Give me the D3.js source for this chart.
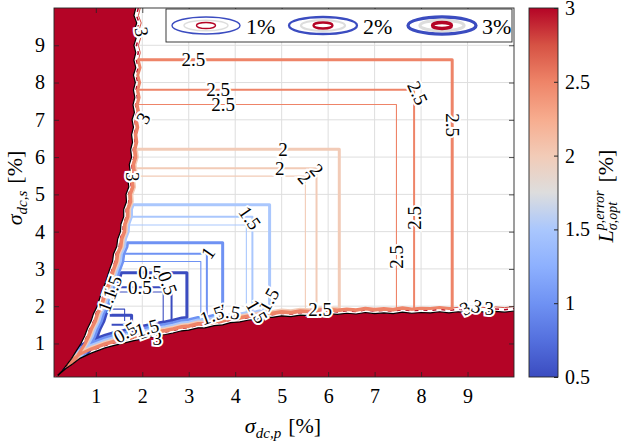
<!DOCTYPE html>
<html>
<head>
<meta charset="utf-8">
<script src="https://cdn.jsdelivr.net/npm/d3@7"></script>
<style>
  body { margin: 0; background: #fff; }
  svg { display: block; }
  text { font-family: 'Liberation Serif', 'DejaVu Serif', serif; fill: #000; }
</style>
</head>
<body>
<svg></svg>
<script>
'use strict';

const svgWidth = 625;
const svgHeight = 444;
const plot = { left: 54, right: 514, top: 8, bottom: 377 };

// ---- data ----
const xTicks = [1, 2, 3, 4, 5, 6, 7, 8, 9];
const yTicks = [1, 2, 3, 4, 5, 6, 7, 8, 9];
const colorTicks = [0.5, 1, 1.5, 2, 2.5, 3];

const datasets = ['1%', '2%', '3%'];
const levels = [0.5, 1, 1.5, 2, 2.5];
// corner of each L-shaped contour, one row per dataset
const cornerX = [
  [2.45, 3.26, 4.24, 5.51, 7.47],
  [2.63, 3.39, 4.37, 5.75, 7.85],
  [2.96, 3.73, 4.74, 6.24, 8.67]
];
const cornerY = [
  [2.38, 3.20, 4.18, 5.49, 7.41],
  [2.51, 3.41, 4.40, 5.70, 7.81],
  [2.90, 3.70, 4.72, 6.21, 8.61]
];

// edge of the saturated (>= 3) region, top-left part (top -> tip)
const leftEdge = [
  [1.86, 10], [1.82, 9.8], [1.88, 9.6], [1.83, 9.4], [1.87, 9.2], [1.82, 9.0],
  [1.86, 8.8], [1.82, 8.6], [1.86, 8.4], [1.81, 8.2], [1.85, 8.0], [1.81, 7.8],
  [1.84, 7.6], [1.8, 7.4], [1.83, 7.2], [1.78, 7.0], [1.81, 6.8], [1.77, 6.6],
  [1.79, 6.4], [1.75, 6.2], [1.77, 6.0], [1.72, 5.8], [1.74, 5.6], [1.69, 5.4],
  [1.71, 5.2], [1.65, 5.0], [1.66, 4.8], [1.6, 4.6], [1.6, 4.4], [1.54, 4.2],
  [1.53, 4.0], [1.47, 3.8], [1.45, 3.6], [1.38, 3.4], [1.36, 3.2], [1.3, 3.0],
  [1.25, 2.8], [1.2, 2.6], [1.13, 2.4], [1.08, 2.2], [1.03, 2.0], [0.95, 1.8],
  [0.9, 1.6], [0.82, 1.4], [0.76, 1.2], [0.68, 1.0], [0.58, 0.8], [0.48, 0.6],
  [0.37, 0.42], [0.27, 0.26], [0.18, 0.14]
];
// edge of the saturated region, bottom-right part (tip -> right)
const bottomEdge = [
  [0.18, 0.14], [0.35, 0.32], [0.5, 0.45], [0.66, 0.6], [0.9, 0.74], [1.2, 0.88],
  [1.4, 0.95], [1.58, 1.0], [1.8, 1.07], [2.0, 1.12], [2.3, 1.2], [2.5, 1.24],
  [2.66, 1.28], [2.85, 1.34], [3.0, 1.36], [3.2, 1.42], [3.35, 1.42], [3.55, 1.48],
  [3.73, 1.5], [3.9, 1.56], [4.1, 1.58], [4.3, 1.63], [4.45, 1.64], [4.65, 1.7],
  [4.8, 1.7], [5.0, 1.74], [5.2, 1.72], [5.4, 1.76], [5.6, 1.75], [5.8, 1.79],
  [6.0, 1.8], [6.2, 1.78], [6.4, 1.81], [6.6, 1.79], [6.8, 1.83], [7.0, 1.8],
  [7.2, 1.82], [7.4, 1.8], [7.6, 1.84], [7.8, 1.81], [8.0, 1.83], [8.2, 1.82],
  [8.4, 1.85], [8.6, 1.82], [8.8, 1.85], [9.0, 1.83], [9.2, 1.86], [9.4, 1.84],
  [9.6, 1.86], [9.8, 1.84], [10, 1.87]
];
// small closed contours of level 0.5 inside the wedge
const innerContours = [
  { set: 2, pts: [[1.3, 1.76], [1.77, 1.76], [1.77, 1.15]] },
  { set: 1, pts: [[1.34, 1.5], [1.7, 1.5], [1.7, 1.14]] },
  { set: 0, pts: [[1.25, 1.92], [1.62, 1.92], [1.62, 1.6]] }
];

// contour labels: [text, x, y, rotation]
const contourLabels = [
  ['2.5', 3.1, 8.61, 0], ['2.5', 3.63, 7.81, 0], ['2.5', 3.74, 7.41, 0],
  ['2.5', 7.93, 7.72, 65], ['2.5', 8.67, 6.86, 90], ['2.5', 7.85, 4.37, -90],
  ['2.5', 7.47, 3.32, -90], ['2.5', 5.83, 1.92, 0],
  ['3', 8.95, 1.95, -30], ['3', 9.2, 2.0, 20], ['3', 9.47, 1.93, 0],
  ['2', 5.03, 6.21, 0], ['2', 4.96, 5.7, 0], ['2', 5.5, 5.45, 50], ['2', 5.76, 5.66, 50],
  ['1.5', 4.32, 4.37, 55], ['1', 3.41, 3.43, -55], ['1.5', 4.71, 2.17, -60],
  ['1.5', 4.47, 1.86, 60], ['1.5', 3.85, 1.86, 10], ['1.5', 3.5, 1.76, -20],
  ['0.5', 2.17, 2.92, 0], ['0.5', 1.95, 2.51, 0], ['0.5', 2.55, 2.62, 70],
  ['3', 1.99, 9.36, 80], ['3', 2.02, 7.05, -60], ['3', 1.79, 5.47, 90],
  ['3', 2.32, 1.15, 0], ['1', 1.99, 1.31, -20], ['1.5', 1.24, 2.17, -70],
  ['1.5', 1.35, 2.5, -70], ['0.5', 1.63, 1.3, -30], ['1.5', 2.1, 1.42, -15]
];

// coolwarm colour map stops, 0.5 -> 3
const coolwarm = ['#3b4cc0', '#5470de', '#6f92f3', '#8db0fe', '#aac7fd', '#dddddd',
  '#f2cbb7', '#f7ac8e', '#ee8468', '#d65244', '#b40426'];

// ---- styles ----
const lineWidths = [1.1, 2, 3];
const gapPx = [12, 9.5, 7, 5, 3.5];
const gapShift = [-0.8, 0, 0.8];
const serif = "'Liberation Serif', serif";

const svg = d3.select('svg')
  .attr('width', svgWidth)
  .attr('height', svgHeight);

const x = d3.scaleLinear().domain([0.1, 10]).range([plot.left, plot.right]);
const y = d3.scaleLinear().domain([0.1, 10]).range([plot.bottom, plot.top]);
const color = d3.scaleLinear()
  .domain(coolwarm.map((c, i) => 0.5 + 2.5 * i / (coolwarm.length - 1)))
  .range(coolwarm);

const line = d3.line();

function xOnLeft(v) {
  for (let i = 0; i < leftEdge.length - 1; i++) {
    const a = leftEdge[i], b = leftEdge[i + 1];
    if (v <= a[1] && v >= b[1]) return a[0] + (b[0] - a[0]) * (a[1] - v) / (a[1] - b[1]);
  }
  return leftEdge[leftEdge.length - 1][0];
}
function yOnBottom(v) {
  for (let i = 0; i < bottomEdge.length - 1; i++) {
    const a = bottomEdge[i], b = bottomEdge[i + 1];
    if (v >= a[0] && v <= b[0]) return a[1] + (b[1] - a[1]) * (v - a[0]) / (b[0] - a[0]);
  }
  return bottomEdge[bottomEdge.length - 1][1];
}

// closed contour: L-shape in the open area, then back along the saturated edges
function contourLoop(cx, cy, gap) {
  const pts = [[x(cx), y(cy)], [x(cx), y(yOnBottom(cx)) - gap]];
  bottomEdge.filter(p => p[0] < cx).reverse()
    .forEach(p => pts.push([x(p[0]), y(p[1]) - gap]));
  leftEdge.filter(p => p[1] < cy).reverse()
    .forEach(p => pts.push([x(p[0]) + gap, y(p[1])]));
  pts.push([x(xOnLeft(cy)) + gap, y(cy)]);
  return pts;
}

const defs = svg.append('defs');
defs.append('clipPath').attr('id', 'wedge')
  .append('path')
  .attr('d', line([...leftEdge, ...bottomEdge.slice(1), [10, 10]].map(p => [x(p[0]), y(p[1])])) + 'Z');

const grad = defs.append('linearGradient').attr('id', 'cbar')
  .attr('x1', 0).attr('y1', 1).attr('x2', 0).attr('y2', 0);
coolwarm.forEach((c, i) => grad.append('stop')
  .attr('offset', i / (coolwarm.length - 1)).attr('stop-color', c));

// background and grid
svg.append('rect')
  .attr('x', plot.left).attr('y', plot.top)
  .attr('width', plot.right - plot.left).attr('height', plot.bottom - plot.top)
  .attr('fill', '#fff');

svg.append('g').selectAll('line').data(xTicks).join('line')
  .attr('x1', d => x(d)).attr('x2', d => x(d))
  .attr('y1', plot.top).attr('y2', plot.bottom)
  .attr('stroke', '#dedede').attr('stroke-width', 1);
svg.append('g').selectAll('line').data(yTicks).join('line')
  .attr('y1', d => y(d)).attr('y2', d => y(d))
  .attr('x1', plot.left).attr('x2', plot.right)
  .attr('stroke', '#dedede').attr('stroke-width', 1);

// saturated regions
const red = color(3);
svg.append('path')
  .attr('d', line([[0.1, 10], ...leftEdge, [0.1, 0.1]].map(p => [x(p[0]), y(p[1])])) + 'Z')
  .attr('fill', red);
svg.append('path')
  .attr('d', line([...bottomEdge, [10, 0.1], [0.1, 0.1]].map(p => [x(p[0]), y(p[1])])) + 'Z')
  .attr('fill', red);

// contours
const cg = svg.append('g').attr('clip-path', 'url(#wedge)')
  .attr('fill', 'none').attr('stroke-linejoin', 'round');

// level-3 fringe along the edges
cg.append('path')
  .attr('d', line(leftEdge.map(p => [x(p[0]) + 2.5, y(p[1])])))
  .attr('stroke', red).attr('stroke-width', 1.5).attr('stroke-dasharray', '4 5');
cg.append('path')
  .attr('d', line(bottomEdge.map(p => [x(p[0]), y(p[1]) - 2.5])))
  .attr('stroke', red).attr('stroke-width', 1.5).attr('stroke-dasharray', '4 5');
cg.append('path')
  .attr('d', line(leftEdge.map(p => [x(p[0]) + 4.5, y(p[1])])))
  .attr('stroke', color(2.75)).attr('stroke-width', 1);
cg.append('path')
  .attr('d', line(bottomEdge.map(p => [x(p[0]), y(p[1]) - 4.5])))
  .attr('stroke', color(2.75)).attr('stroke-width', 1);

datasets.forEach((ds, d) => {
  levels.forEach((lv, i) => {
    cg.append('path')
      .attr('d', line(contourLoop(cornerX[d][i], cornerY[d][i], gapPx[i] + gapShift[d])) + 'Z')
      .attr('stroke', color(lv))
      .attr('stroke-width', lineWidths[d]);
  });
});

innerContours.forEach(c => {
  cg.append('path')
    .attr('d', line(c.pts.map(p => [x(p[0]), y(p[1])])))
    .attr('stroke', color(0.5))
    .attr('stroke-width', lineWidths[c.set]);
});

// black edge of the saturated region
svg.append('path')
  .attr('d', line(leftEdge.map(p => [x(p[0]), y(p[1])])))
  .attr('fill', 'none').attr('stroke', '#000').attr('stroke-width', 1.2);
svg.append('path')
  .attr('d', line(bottomEdge.map(p => [x(p[0]), y(p[1])])))
  .attr('fill', 'none').attr('stroke', '#000').attr('stroke-width', 1.2);

// contour labels
svg.append('g').selectAll('text').data(contourLabels).join('text')
  .attr('transform', d => `translate(${x(d[1])},${y(d[2])}) rotate(${d[3]})`)
  .attr('text-anchor', 'middle')
  .attr('dy', '0.35em')
  .attr('font-size', 19)
  .attr('stroke', '#fff').attr('stroke-width', 4)
  .attr('paint-order', 'stroke')
  .text(d => d[0]);

// axes
svg.append('g')
  .attr('transform', `translate(0,${plot.bottom})`)
  .call(d3.axisBottom(x).tickValues(xTicks).tickSize(-5).tickPadding(12).tickFormat(d3.format('d')));
svg.append('g')
  .attr('transform', `translate(${plot.left},0)`)
  .call(d3.axisLeft(y).tickValues(yTicks).tickSize(-5).tickPadding(9).tickFormat(d3.format('d')));
svg.append('g')
  .attr('transform', `translate(0,${plot.top})`)
  .call(d3.axisTop(x).tickValues(xTicks).tickSize(-5).tickFormat(''));
svg.append('g')
  .attr('transform', `translate(${plot.right},0)`)
  .call(d3.axisRight(y).tickValues(yTicks).tickSize(-5).tickFormat(''));
svg.selectAll('.domain').remove();
svg.selectAll('.tick line').attr('stroke', '#262626').attr('stroke-width', 0.8);
svg.selectAll('.tick text')
  .attr('font-family', serif)
  .attr('font-size', 20).attr('fill', '#000');

svg.append('rect')
  .attr('x', plot.left).attr('y', plot.top)
  .attr('width', plot.right - plot.left).attr('height', plot.bottom - plot.top)
  .attr('fill', 'none').attr('stroke', '#262626').attr('stroke-width', 0.9);

// axis titles
const xt = svg.append('text')
  .attr('x', 283).attr('y', 433).attr('text-anchor', 'middle').attr('font-size', 22);
xt.append('tspan').attr('font-style', 'italic').text('σ');
xt.append('tspan').attr('font-style', 'italic').attr('font-size', 15).attr('dy', 5).text('dc,p');
xt.append('tspan').attr('dy', -5).attr('dx', 7).text('[%]');

const yt = svg.append('text')
  .attr('transform', 'translate(22,188) rotate(-90)')
  .attr('text-anchor', 'middle').attr('font-size', 22);
yt.append('tspan').attr('font-style', 'italic').text('σ');
yt.append('tspan').attr('font-style', 'italic').attr('font-size', 15).attr('dy', 5).text('dc,s');
yt.append('tspan').attr('dy', -5).attr('dx', 7).text('[%]');

// legend
const legend = { x: 166, y: 9, w: 346, h: 33 };
const legendX = [206, 323, 442];
svg.append('rect')
  .attr('x', legend.x).attr('y', legend.y).attr('width', legend.w).attr('height', legend.h)
  .attr('fill', '#fff').attr('stroke', '#262626').attr('stroke-width', 0.9);
datasets.forEach((ds, d) => {
  const cy = legend.y + legend.h / 2;
  const lg = svg.append('g').attr('fill', 'none').attr('stroke-width', lineWidths[d] + 0.3);
  lg.append('ellipse').attr('cx', legendX[d]).attr('cy', cy).attr('rx', 34).attr('ry', 8.5)
    .attr('stroke', color(0.5));
  lg.append('ellipse').attr('cx', legendX[d]).attr('cy', cy).attr('rx', 22).attr('ry', 5.3)
    .attr('stroke', color(1.75));
  lg.append('ellipse').attr('cx', legendX[d]).attr('cy', cy).attr('rx', 9.5).attr('ry', 3)
    .attr('stroke', red);
  svg.append('text')
    .attr('x', legendX[d] + 40).attr('y', cy + 8)
    .attr('font-size', 22)
    .text(ds);
});

// colour bar
const cb = { x: 529, w: 29 };
const cScale = d3.scaleLinear().domain([0.5, 3]).range([plot.bottom, plot.top]);
svg.append('rect')
  .attr('x', cb.x).attr('y', plot.top).attr('width', cb.w).attr('height', plot.bottom - plot.top)
  .attr('fill', 'url(#cbar)').attr('stroke', '#262626').attr('stroke-width', 0.9);
svg.append('g')
  .attr('transform', `translate(${cb.x + cb.w},0)`)
  .call(d3.axisRight(cScale).tickValues(colorTicks).tickSize(-4).tickPadding(7).tickFormat(d => String(d)))
  .call(g => g.select('.domain').remove())
  .call(g => g.selectAll('.tick line').attr('stroke', '#262626'))
  .call(g => g.selectAll('.tick text')
    .attr('font-family', serif).attr('font-size', 20).attr('fill', '#000'));

const ct = svg.append('text')
  .attr('transform', 'translate(613,196) rotate(-90)')
  .attr('text-anchor', 'middle').attr('font-size', 22);
ct.append('tspan').attr('font-style', 'italic').text('L');
const sup = ct.append('tspan').attr('font-style', 'italic').attr('font-size', 14).attr('dy', -9).text('p,error');
const sub = ct.append('tspan').attr('font-style', 'italic').attr('font-size', 14).attr('dy', 13).text('σ,opt');
const unit = ct.append('tspan').attr('dy', -4).text('[%]');
const supW = sup.node().getComputedTextLength();
const subW = sub.node().getComputedTextLength();
sub.attr('dx', -supW);
unit.attr('dx', Math.max(0, supW - subW) + 8);
</script>
</body>
</html>
